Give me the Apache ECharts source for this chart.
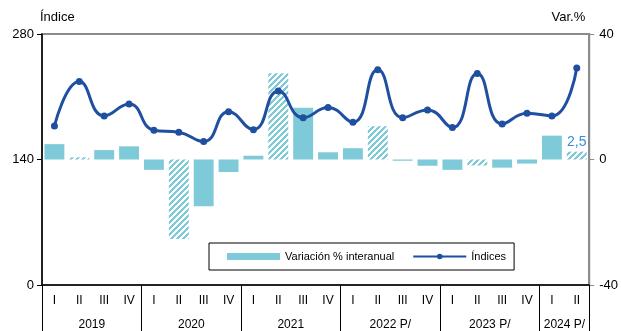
<!DOCTYPE html>
<html>
<head>
<meta charset="utf-8">
<script src="https://cdn.jsdelivr.net/npm/echarts@6/dist/echarts.min.js"></script>
<style>
  html, body { margin: 0; padding: 0; background: #fff; }
  #chart { width: 621px; height: 331px; }
</style>
</head>
<body>
<div id="chart"></div>
<script>
// trimestres 2019 I - 2024 II
const quarters = ['I','II','III','IV','I','II','III','IV','I','II','III','IV',
                  'I','II','III','IV','I','II','III','IV','I','II']
const years = ['2019','2020','2021','2022 P/','2023 P/','2024 P/']
const yearStart = [0, 4, 8, 12, 16, 20]
const yearSize = [4, 4, 4, 4, 4, 2]

const indices = [177.4, 226.9, 188.6, 202.0, 172.6, 170.4, 160.0, 193.4, 173.3, 216.5, 186.6,
                 197.9, 181.6, 240.0, 186.7, 195.3, 175.6, 235.9, 179.7, 191.6, 188.6, 242.2]
const variation = [4.9, 0.7, 3.0, 4.2, -3.3, -25.3, -14.9, -4.0, 1.2, 27.5, 16.5,
                   2.3, 3.6, 10.6, -0.4, -2.0, -3.3, -1.9, -2.6, -1.3, 7.6, 2.5]
const hatched = [1, 5, 9, 13, 17, 21]

const barColor = '#7fcad8'
const lineColor = '#1f4fa0'

// patron rayado para los trimestres II
function makeHatch() {
  const c = document.createElement('canvas')
  c.width = 6
  c.height = 6
  const ctx = c.getContext('2d')
  ctx.fillStyle = '#ffffff'
  ctx.fillRect(0, 0, 6, 6)
  ctx.fillStyle = barColor
  for (let x = 0; x < 6; x++) {
    for (let y = 0; y < 6; y++) {
      if ((x + y) % 6 < 3) ctx.fillRect(x, y, 1, 1)
    }
  }
  return c
}
const hatch = { image: makeHatch(), repeat: 'repeat' }

// etiquetas de año: una por grupo, centrada en el grupo
const yearAxisData = quarters.map(() => '')
yearStart.forEach((s, i) => { yearAxisData[s + yearSize[i] / 2 - 1] = years[i] })

const barData = variation.map((v, i) => {
  const item = { value: v }
  if (hatched.includes(i)) item.itemStyle = { color: hatch }
  if (i === variation.length - 1) {
    item.label = {
      show: true, position: 'top', distance: 3,
      formatter: () => String(v).replace('.', ','),
      color: '#3a8fd4', fontSize: 14, fontFamily: 'Liberation Sans'
    }
  }
  return item
})

const chart = echarts.init(document.getElementById('chart'))

const font = 'Liberation Sans'

chart.setOption({
  animation: false,
  textStyle: { fontFamily: font, color: '#000' },
  grid: {
    left: 42, right: 29, top: 34, bottom: 46,
    show: true, borderColor: '#8c8c8c', borderWidth: 2
  },
  legend: {
    left: 209, top: 243,
    padding: [8, 8, 8, 18],
    borderColor: '#000', borderWidth: 1,
    itemWidth: 53, itemHeight: 7, itemGap: 18,
    textStyle: { fontFamily: font, fontSize: 11, color: '#000' },
    data: [
      { name: 'Variación % interanual', icon: 'rect' },
      { name: 'Índices' }
    ]
  },
  xAxis: [
    {
      type: 'category',
      data: quarters,
      axisLine: { lineStyle: { color: '#000', width: 1.5 } },
      axisTick: {
        show: true, length: 46,
        interval: (i) => yearStart.includes(i),
        lineStyle: { color: '#000', width: 1 }
      },
      axisLabel: { interval: 0, fontSize: 12, margin: 10, color: '#000' }
    },
    {
      type: 'category',
      data: yearAxisData,
      position: 'bottom',
      axisLine: { show: false },
      axisTick: { show: false },
      axisLabel: {
        interval: 0, fontSize: 12, margin: 34, color: '#000',
        padding: [0, 0, 0, 25]
      }
    }
  ],
  yAxis: [
    {
      type: 'value',
      min: 0, max: 280, interval: 140,
      name: 'Índice',
      nameGap: 10,
      nameTextStyle: { fontSize: 13, align: 'left', color: '#000', padding: [0, 0, 0, -2] },
      axisLine: { show: true, lineStyle: { color: '#000', width: 1.5 } },
      axisTick: { show: true, length: 5, lineStyle: { color: '#000' } },
      axisLabel: { fontSize: 13, margin: 8, color: '#000' },
      splitLine: { show: false }
    },
    {
      type: 'value',
      min: -40, max: 40, interval: 40,
      name: 'Var.%',
      nameGap: 10,
      nameTextStyle: { fontSize: 13, align: 'right', color: '#000', padding: [0, 4, 0, 0] },
      axisLine: { show: true, lineStyle: { color: '#8c8c8c', width: 2 } },
      axisTick: { show: true, length: 5, lineStyle: { color: '#8c8c8c' } },
      axisLabel: { fontSize: 13, margin: 10, color: '#000' },
      splitLine: { show: false }
    }
  ],
  series: [
    {
      name: 'Variación % interanual',
      type: 'bar',
      yAxisIndex: 1,
      barCategoryGap: '20%',
      itemStyle: { color: barColor },
      data: barData
    },
    {
      name: 'Índices',
      type: 'line',
      yAxisIndex: 0,
      smooth: 0.5,
      symbol: 'circle',
      symbolSize: 7,
      lineStyle: { color: lineColor, width: 3 },
      itemStyle: { color: lineColor },
      data: indices,
      z: 3
    }
  ]
})
</script>
</body>
</html>
